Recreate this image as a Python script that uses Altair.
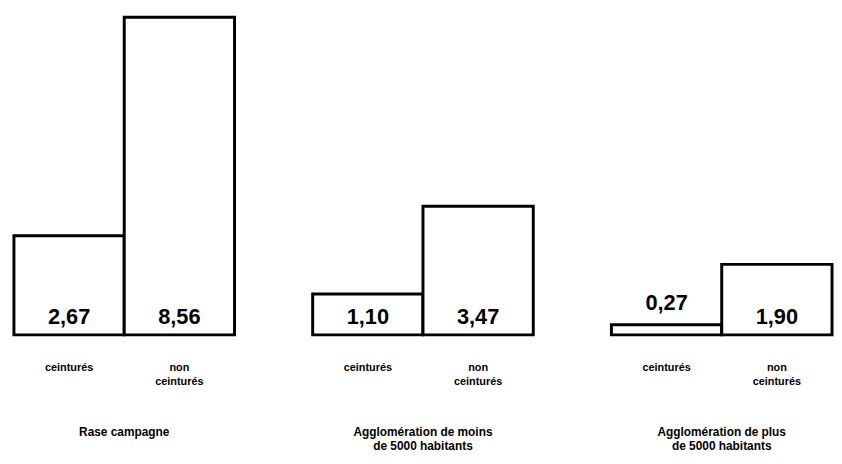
import altair as alt
import pandas as pd

groups = ["Rase campagne", "Agglomération de moins|de 5000 habitants", "Agglomération de plus|de 5000 habitants"]
categories = ["ceinturés", "non|ceinturés"]
values = [[2.67, 8.56], [1.10, 3.47], [0.27, 1.90]]
labels = [["2,67", "8,56"], ["1,10", "3,47"], ["0,27", "1,90"]]

rows = []
for g, vals, labs in zip(groups, values, labels):
    for c, v, l in zip(categories, vals, labs):
        rows.append({"group": g, "cat": c, "value": v, "label": l})
df = pd.DataFrame(rows)

FONT = "Liberation Sans"

x = alt.X("cat:N", sort=categories, title=None,
          scale=alt.Scale(paddingInner=0, paddingOuter=0),
          axis=alt.Axis(domain=False, ticks=False, labelAngle=0, labelPadding=25,
                        labelExpr="split(datum.label, '|')", labelFont=FONT,
                        labelFontSize=11, labelFontWeight="bold", labelColor="black",
                        labelLineHeight=14, labelBaseline="top"))
yscale = alt.Scale(domain=[0, 8.56], nice=False, zero=True)
y = alt.Y("value:Q", axis=None, scale=yscale)

bars = alt.Chart().mark_bar(fill="white", stroke="black", strokeWidth=3, strokeJoin="miter").encode(x=x, y=y)

inside = alt.Chart().transform_filter("datum.value >= 0.5").transform_calculate(
    zero="0"
).mark_text(
    font=FONT, fontSize=22, fontWeight="bold", baseline="bottom", dy=-6, color="black"
).encode(x=x, y=alt.Y("zero:Q", axis=None, scale=yscale), text="label:N")

above = alt.Chart().transform_filter("datum.value < 0.5").mark_text(
    font=FONT, fontSize=22, fontWeight="bold", baseline="bottom", dy=-10, color="black"
).encode(x=x, y=y, text="label:N")

layer = alt.layer(bars, inside, above, data=df).properties(width=223, height=321)

chart = layer.facet(
    column=alt.Column("group:N", sort=groups, title=None,
                      header=alt.Header(labelOrient="bottom", labelPadding=41,
                                        labelExpr="split(datum.label, '|')",
                                        labelFont=FONT, labelFontSize=12, labelFontWeight="bold",
                                        labelColor="black", labelLineHeight=14)),
    spacing=75
).properties(
    padding={"left": 4, "top": 5, "right": 0, "bottom": 0}
).configure(background="white").configure_view(stroke=None)

chart.save("out.html", embed_options={"renderer": "svg", "actions": False})
